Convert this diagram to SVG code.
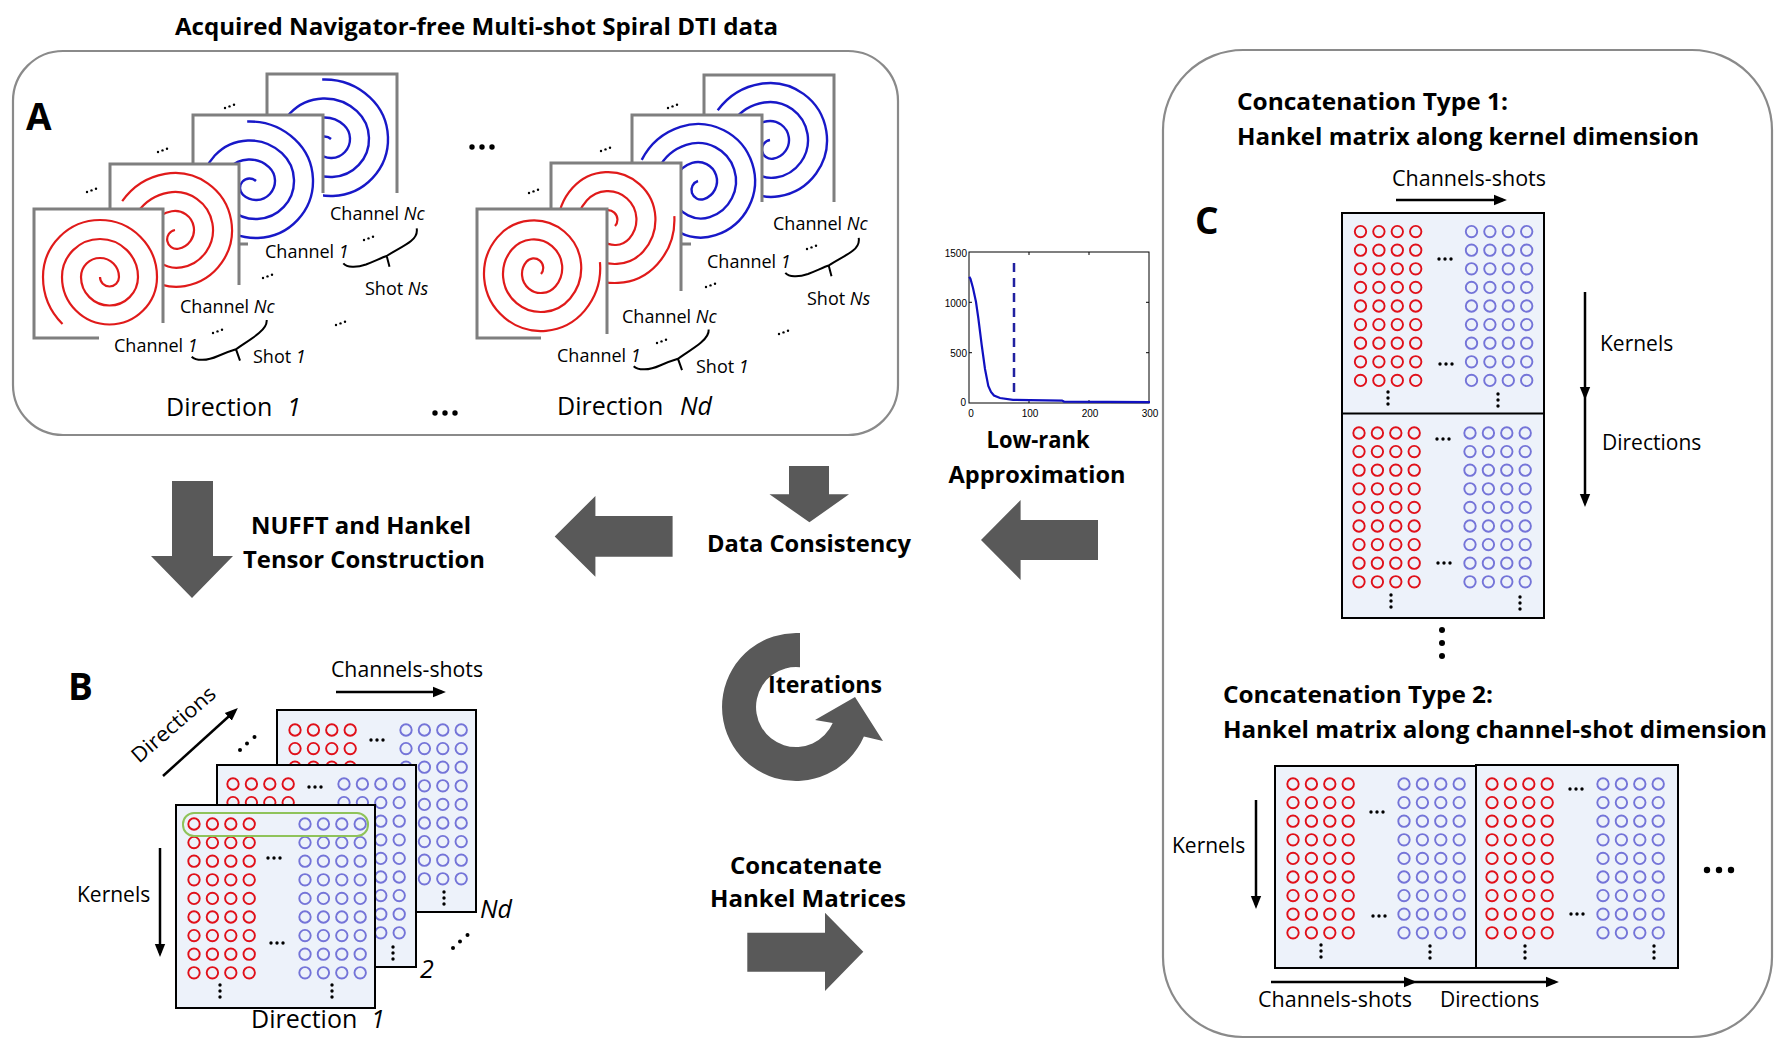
<svg xmlns="http://www.w3.org/2000/svg" width="1788" height="1055" viewBox="0 0 1788 1055">
<style>
text{font-family:"Open Sans","Liberation Sans",sans-serif;fill:#000}
.b{font-weight:bold;font-size:24px}
.lbl{font-size:18px}
.m{font-size:21px}
.dl{font-size:25px}
.i{font-style:italic}
.tk{font-family:"Liberation Sans",Arial,sans-serif;font-size:10px}
.panel{fill:none;stroke:#8a8a8a;stroke-width:2.2}
.fw{fill:#fff}
.fe{fill:none;stroke:#7f7f7f;stroke-width:3}
.spr{fill:none;stroke:#e01a1a;stroke-width:2.2}
.spb{fill:none;stroke:#1818c8;stroke-width:2.4}
.cr{fill:none;stroke:#e0101a;stroke-width:1.9}
.cb{fill:none;stroke:#7474d8;stroke-width:1.9}
.mat{fill:#edf2fa;stroke:#000;stroke-width:2}
.ln{fill:none;stroke:#000;stroke-width:2.5;marker-end:url(#ah)}
.big{fill:#595959}
.dot{fill:#000}
.brace{fill:none;stroke:#000;stroke-width:2}
</style>
<defs>
<marker id="ah" viewBox="0 0 10 10" refX="7" refY="5" markerWidth="13" markerHeight="13" markerUnits="userSpaceOnUse" orient="auto"><path d="M0,1 L10,5 L0,9 z" fill="#000"/></marker>
<path id="sp" d="M0,0 A9.5,9.5 0 0 0 19,0 A19,19 0 0 0 -19,0 A28.5,28.5 0 0 0 38,0 A38,38 0 0 0 -38,0 A47.5,47.5 0 0 0 57,0 A57,57 0 0 0 -57,0 A66.5,66.5 0 0 0 -37.5,47"/>
<g id="row">
<circle class="cr" cx="0" cy="0" r="5.7"/><circle class="cr" cx="18.4" cy="0" r="5.7"/><circle class="cr" cx="36.8" cy="0" r="5.7"/><circle class="cr" cx="55.2" cy="0" r="5.7"/>
<circle class="cb" cx="111" cy="0" r="5.7"/><circle class="cb" cx="129.4" cy="0" r="5.7"/><circle class="cb" cx="147.8" cy="0" r="5.7"/><circle class="cb" cx="166.2" cy="0" r="5.7"/>
</g>
<g id="blk">
<use href="#row"/><use href="#row" y="18.6"/><use href="#row" y="37.2"/><use href="#row" y="55.8"/><use href="#row" y="74.4"/><use href="#row" y="93"/><use href="#row" y="111.6"/><use href="#row" y="130.2"/><use href="#row" y="148.8"/>
</g>
<g id="hd" class="dot"><circle cx="-6" cy="0" r="1.7"/><circle cx="0" cy="0" r="1.7"/><circle cx="6" cy="0" r="1.7"/></g>
<g id="vd" class="dot"><circle cx="0" cy="0" r="1.7"/><circle cx="0" cy="6" r="1.7"/><circle cx="0" cy="12" r="1.7"/></g>
<g id="td" class="dot"><circle cx="0" cy="0" r="1.2"/><circle cx="4.5" cy="-1.6" r="1.2"/><circle cx="9" cy="-3.2" r="1.2"/></g>
<g id="dg" class="dot"><circle cx="0" cy="0" r="2"/><circle cx="7" cy="-6.5" r="2"/><circle cx="14.5" cy="-13" r="2"/></g>
</defs>
<rect width="1788" height="1055" fill="#fff"/>

<text id="title" class="b" x="175" y="35" textLength="603" lengthAdjust="spacingAndGlyphs">Acquired Navigator-free Multi-shot Spiral DTI data</text>

<g id="panelA">
<rect class="panel" x="13" y="51" width="885" height="384" rx="50"/>
<text class="b" x="26" y="130" style="font-size:37px">A</text>
<g id="dir1">
<rect class="fw" x="267" y="74" width="130" height="129"/><path class="fe" d="M267,203V74H397V193"/>
<use href="#sp" class="spb" transform="translate(331,139) rotate(133)"/>
<rect class="fw" x="193" y="115" width="130" height="129"/><path class="fe" d="M248,244H193V115H323V193"/>
<use href="#sp" class="spb" transform="translate(256,181) rotate(133)"/>
<rect class="fw" x="110" y="164" width="129" height="129"/><path class="fe" d="M110,293V164H239V285"/>
<use href="#sp" class="spr" transform="translate(175,230) rotate(80)"/>
<rect class="fw" x="34" y="209" width="129" height="129"/><path class="fe" d="M99,338H34V209H163V323"/>
<use href="#sp" class="spr" transform="translate(100,277)"/>
<use href="#td" x="225" y="108"/><use href="#td" x="158" y="152"/><use href="#td" x="87" y="192"/>
<use href="#td" x="364" y="240"/><use href="#td" x="263" y="278"/><use href="#td" x="213" y="333"/><use href="#td" x="336" y="325"/>
<text class="lbl" x="330" y="220">Channel <tspan class="i">Nc</tspan></text>
<text class="lbl" x="265" y="258">Channel <tspan class="i">1</tspan></text>
<text class="lbl" x="365" y="295">Shot <tspan class="i">Ns</tspan></text>
<text class="lbl" x="180" y="313">Channel <tspan class="i">Nc</tspan></text>
<text class="lbl" x="114" y="352">Channel <tspan class="i">1</tspan></text>
<text class="lbl" x="253" y="363">Shot <tspan class="i">1</tspan></text>
<g id="braces1">
<path class="brace" d="M343.3,263.3 C347,267.5 356,268 366,264.5 C375,261 382,257.5 386.7,256 L389.5,266.7 M386.7,256 C394,251 405,246 411,241 C416,237 417.5,233 416.7,228.3"/>
<path class="brace" d="M191.7,356.7 C196,361 207,361 218,356 C226,352.5 232,350.5 236,349.3 L240,360.7 M236,349.3 C243,344 252,339 259,333 C265,328 267,324 266.7,320"/>
</g>
<text class="dl" x="166" y="416">Direction<tspan class="i" x="287">1</tspan></text>
</g>
<g id="dirNd">
<rect class="fw" x="704" y="75" width="130" height="129"/><path class="fe" d="M704,204V75H834V202"/>
<use href="#sp" class="spb" transform="translate(770,140) rotate(81)"/>
<rect class="fw" x="632" y="115" width="130" height="129"/><path class="fe" d="M691,244H632V115H762V202"/>
<use href="#sp" class="spb" transform="translate(698,181) rotate(72)"/>
<rect class="fw" x="551" y="163" width="130" height="130"/><path class="fe" d="M551,293V163H681V291"/>
<use href="#sp" class="spr" transform="translate(615,226) rotate(-138)"/>
<rect class="fw" x="477" y="209" width="130" height="129"/><path class="fe" d="M541,338H477V209H607V334"/>
<use href="#sp" class="spr" transform="translate(541,274) rotate(-140)"/>
<use href="#td" x="668" y="108"/><use href="#td" x="601" y="151"/><use href="#td" x="529" y="193"/>
<use href="#td" x="807" y="249"/><use href="#td" x="706" y="287"/><use href="#td" x="657" y="343"/><use href="#td" x="779" y="334"/>
<text class="lbl" x="773" y="230">Channel <tspan class="i">Nc</tspan></text>
<text class="lbl" x="707" y="268">Channel <tspan class="i">1</tspan></text>
<text class="lbl" x="807" y="305">Shot <tspan class="i">Ns</tspan></text>
<text class="lbl" x="622" y="323">Channel <tspan class="i">Nc</tspan></text>
<text class="lbl" x="557" y="362">Channel <tspan class="i">1</tspan></text>
<text class="lbl" x="696" y="373">Shot <tspan class="i">1</tspan></text>
<use href="#braces1" transform="translate(442,9.5)"/>
<text class="dl" x="557" y="415">Direction<tspan class="i" x="680">Nd</tspan></text>
</g>
<g class="dot"><circle cx="435" cy="413" r="2.7"/><circle cx="445" cy="413" r="2.7"/><circle cx="455" cy="413" r="2.7"/>
<circle cx="472" cy="147" r="2.7"/><circle cx="482" cy="147" r="2.7"/><circle cx="492" cy="147" r="2.7"/></g>
</g>

<g id="chart">
<rect x="969" y="252" width="180" height="151" fill="none" stroke="#000" stroke-width="1"/>
<path d="M1029,403v-3M1089,403v-3M1029,252v3M1089,252v3M969,302.3h3M969,352.7h3M1149,302.3h-3M1149,352.7h-3" stroke="#000" stroke-width="1"/>
<text class="tk" x="967" y="257" text-anchor="end">1500</text>
<text class="tk" x="967" y="307" text-anchor="end">1000</text>
<text class="tk" x="967" y="357" text-anchor="end">500</text>
<text class="tk" x="966" y="406" text-anchor="end">0</text>
<text class="tk" x="971" y="417" text-anchor="middle">0</text>
<text class="tk" x="1030" y="417" text-anchor="middle">100</text>
<text class="tk" x="1090" y="417" text-anchor="middle">200</text>
<text class="tk" x="1150" y="417" text-anchor="middle">300</text>
<path d="M969.3,276.7 L970.5,279 L973,288 L976,302 L978.3,318 L981.7,345 L985,369 L988.3,386 L991,392 L994,395.5 L1000,398 L1013,399.8 L1030,400.2 L1062,400.6 L1064,401.6 L1150,402.2" fill="none" stroke="#1010c0" stroke-width="2.2"/>
<line x1="1014" y1="263" x2="1014" y2="398" stroke="#2020a0" stroke-width="2.5" stroke-dasharray="9 6"/>
<text class="b" x="1038" y="448" text-anchor="middle" textLength="103" lengthAdjust="spacingAndGlyphs">Low-rank</text>
<text class="b" x="1037" y="483" text-anchor="middle" textLength="177" lengthAdjust="spacingAndGlyphs">Approximation</text>
</g>

<g id="flow">
<polygon class="big" points="172,481 213,481 213,556 233,556 192,598 151,556 172,556"/>
<polygon class="big" points="672.6,516 672.6,556.7 595.4,556.7 595.4,576.7 554.7,536.5 595.4,496 595.4,516"/>
<polygon class="big" points="789,466 829,466 829,494.3 849,494.3 809.4,522.3 769.5,494.3 789,494.3"/>
<polygon class="big" points="1098,520 1098,560 1020.6,560 1020.6,580 981,540 1020.6,500 1020.6,520"/>
<polygon class="big" points="747.3,932.7 825,932.7 825,912.7 863.3,951.7 825,991 825,971.7 747.3,971.7"/>
<path class="big" d="M800,633.1 A74,74 0 1 0 863.9,736.5 L883,741 L855,697 L815,720 L832.7,723 A40,40 0 1 1 800,667.2 Z"/>
<text class="b" x="361" y="534" text-anchor="middle" textLength="220" lengthAdjust="spacingAndGlyphs">NUFFT and Hankel</text>
<text class="b" x="364" y="568" text-anchor="middle" textLength="242" lengthAdjust="spacingAndGlyphs">Tensor Construction</text>
<text class="b" x="809" y="552" text-anchor="middle" textLength="204" lengthAdjust="spacingAndGlyphs">Data Consistency</text>
<text class="b" x="825" y="693" text-anchor="middle" textLength="114" lengthAdjust="spacingAndGlyphs">Iterations</text>
<text class="b" x="806" y="874" text-anchor="middle" textLength="152" lengthAdjust="spacingAndGlyphs">Concatenate</text>
<text class="b" x="808" y="907" text-anchor="middle" textLength="196" lengthAdjust="spacingAndGlyphs">Hankel Matrices</text>
</g>

<g id="panelB">
<text class="b" x="68" y="700" style="font-size:37px">B</text>
<text class="m" x="331" y="677" textLength="152" lengthAdjust="spacingAndGlyphs">Channels-shots</text>
<text class="m" transform="translate(139,764) rotate(-41)" textLength="104" lengthAdjust="spacingAndGlyphs">Directions</text>
<use href="#dg" x="240" y="750"/>
<rect class="mat" x="277" y="710" width="199" height="202"/>
<use href="#blk" x="295" y="730"/>
<use href="#hd" x="377" y="740"/><use href="#vd" x="444" y="892"/>
<rect class="mat" x="217" y="765" width="199" height="202"/>
<use href="#blk" x="233" y="784"/>
<use href="#hd" x="315" y="787"/><use href="#vd" x="393" y="947"/>
<rect class="mat" x="176" y="805" width="199" height="203"/>
<use href="#blk" x="194" y="824"/>
<rect x="183" y="813" width="185" height="23" rx="11" fill="none" stroke="#8fc35a" stroke-width="2"/>
<use href="#hd" x="274" y="858"/><use href="#hd" x="277" y="943"/>
<use href="#vd" x="220" y="985"/><use href="#vd" x="332" y="985"/>
<text class="dl i" x="480" y="918">Nd</text>
<text class="dl i" x="420" y="978">2</text>
<use href="#dg" x="453" y="948"/>
<text class="m" x="77" y="902">Kernels</text>
<text class="dl" x="251" y="1028">Direction<tspan class="i" x="371">1</tspan></text>
</g>

<g id="panelC">
<rect class="panel" x="1163" y="50" width="609" height="987" rx="80"/>
<text class="b" x="1237" y="110" textLength="271" lengthAdjust="spacingAndGlyphs">Concatenation Type 1:</text>
<text class="b" x="1237" y="145" textLength="462" lengthAdjust="spacingAndGlyphs">Hankel matrix along kernel dimension</text>
<text class="m" x="1392" y="186" textLength="154" lengthAdjust="spacingAndGlyphs">Channels-shots</text>
<text class="b" x="1195" y="234" style="font-size:37px">C</text>
<rect class="mat" x="1342" y="213" width="202" height="405"/>
<line x1="1342" y1="413.5" x2="1544" y2="413.5" stroke="#000" stroke-width="2"/>
<use href="#blk" x="1360.5" y="231.6"/>
<use href="#blk" x="1359" y="433"/>
<use href="#hd" x="1445" y="259"/><use href="#hd" x="1446" y="364"/>
<use href="#hd" x="1443" y="439"/><use href="#hd" x="1444" y="563"/>
<use href="#vd" x="1388" y="392"/><use href="#vd" x="1498" y="394"/>
<use href="#vd" x="1391" y="595"/><use href="#vd" x="1520" y="597"/>
<text class="m" x="1600" y="351">Kernels</text>
<text class="m" x="1602" y="450">Directions</text>
<g class="dot"><circle cx="1442" cy="630" r="3"/><circle cx="1442" cy="643" r="3"/><circle cx="1442" cy="656" r="3"/></g>
<text class="b" x="1223" y="703" textLength="270" lengthAdjust="spacingAndGlyphs">Concatenation Type 2:</text>
<text class="b" x="1223" y="738" textLength="544" lengthAdjust="spacingAndGlyphs">Hankel matrix along channel-shot dimension</text>
<rect class="mat" x="1275" y="766" width="201" height="202"/>
<rect class="mat" x="1476" y="765" width="202" height="203"/>
<use href="#blk" x="1293" y="784"/>
<use href="#blk" x="1492" y="784"/>
<use href="#hd" x="1377" y="812"/><use href="#hd" x="1379" y="916"/>
<use href="#hd" x="1576" y="789"/><use href="#hd" x="1577" y="914"/>
<use href="#vd" x="1321" y="945"/><use href="#vd" x="1430" y="946"/>
<use href="#vd" x="1525" y="946"/><use href="#vd" x="1654" y="946"/>
<g class="dot"><circle cx="1707" cy="870" r="3.2"/><circle cx="1719" cy="870" r="3.2"/><circle cx="1731" cy="870" r="3.2"/></g>
<text class="m" x="1172" y="853">Kernels</text>
<text class="m" x="1258" y="1007" textLength="154" lengthAdjust="spacingAndGlyphs">Channels-shots</text>
<text class="m" x="1440" y="1007">Directions</text>
</g>

<g id="connectors">
<line class="ln" x1="336" y1="692" x2="442" y2="692"/>
<line class="ln" x1="163" y1="776" x2="235" y2="710.7"/>
<line class="ln" x1="160" y1="848" x2="160" y2="953"/>
<line class="ln" x1="1396" y1="200" x2="1503" y2="200"/>
<line class="ln" x1="1585" y1="292" x2="1585" y2="396"/>
<line class="ln" x1="1585" y1="396" x2="1585" y2="503"/>
<line class="ln" x1="1256" y1="800" x2="1256" y2="905"/>
<line class="ln" x1="1271" y1="982" x2="1413" y2="982"/>
<line class="ln" x1="1413" y1="982" x2="1555" y2="982"/>
</g>
</svg>
